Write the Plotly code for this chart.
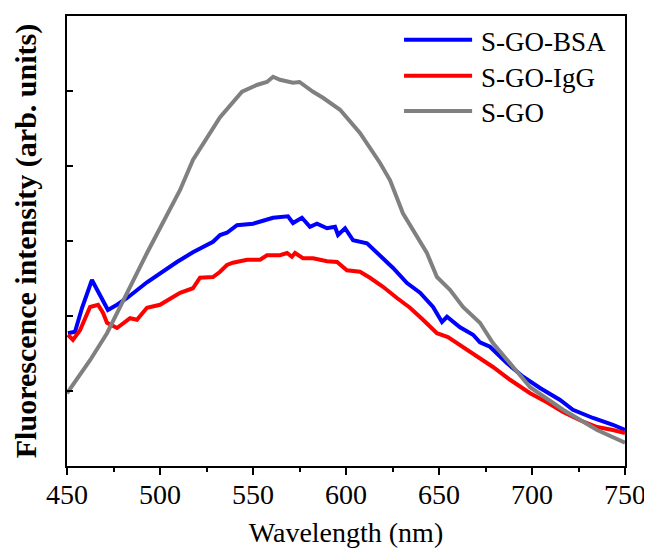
import plotly.graph_objects as go

# wavelength (nm) / intensity (arb. units)
bsa_nm = [450.5, 454.3, 458.1, 463.4, 467.7, 472.0, 476.9, 482.3, 493.0, 500.0, 509.1, 517.7,
          528.5, 532.3, 536.0, 541.4, 550.0, 555.4, 560.8, 568.8, 571.5, 576.3, 580.6, 584.4,
          589.8, 594.1, 595.7, 599.5, 603.8, 611.3, 616.7, 622.0, 625.3, 632.8, 639.8, 646.8,
          651.6, 654.3, 661.3, 668.3, 672.0, 677.4, 686.6, 695.2, 704.3, 715.1, 722.0, 732.8,
          743.5, 750.0]
bsa_int = [1.77, 1.79, 2.11, 2.48, 2.28, 2.08, 2.15, 2.24, 2.45, 2.57, 2.72, 2.85,
           2.99, 3.08, 3.11, 3.21, 3.23, 3.27, 3.31, 3.33, 3.24, 3.31, 3.19, 3.23,
           3.17, 3.19, 3.08, 3.17, 3.01, 2.97, 2.84, 2.71, 2.64, 2.44, 2.31, 2.12,
           1.92, 1.99, 1.85, 1.75, 1.65, 1.59, 1.37, 1.19, 1.04, 0.88, 0.75, 0.64,
           0.55, 0.48]

igg_nm = [450.5, 453.2, 457.0, 462.4, 466.7, 469.4, 471.5, 476.9, 483.9, 487.6, 493.0, 500.0,
          510.8, 517.7, 521.5, 528.5, 532.3, 536.0, 539.2, 546.8, 553.8, 557.5, 564.5, 568.3,
          570.9, 572.6, 576.9, 582.3, 589.8, 595.2, 600.5, 607.5, 612.9, 619.9, 627.4, 634.4,
          641.4, 648.9, 654.8, 662.9, 672.0, 679.0, 688.2, 699.0, 708.0, 716.7, 725.8, 735.0,
          743.5, 750.0]
igg_int = [1.75, 1.68, 1.81, 2.12, 2.15, 2.04, 1.91, 1.84, 1.97, 1.95, 2.11, 2.15,
           2.31, 2.37, 2.51, 2.52, 2.59, 2.68, 2.71, 2.75, 2.75, 2.81, 2.81, 2.84,
           2.79, 2.84, 2.77, 2.77, 2.73, 2.72, 2.61, 2.59, 2.51, 2.39, 2.24, 2.11,
           1.95, 1.77, 1.72, 1.59, 1.44, 1.32, 1.15, 0.97, 0.85, 0.72, 0.61, 0.52,
           0.48, 0.44]

sgo_nm = [450.0, 462.4, 471.5, 482.3, 493.0, 510.8, 517.7, 532.3, 544.1, 552.0, 557.5, 560.8,
          564.5, 571.5, 575.0, 582.3, 587.6, 596.8, 607.5, 618.3, 623.7, 630.6, 638.2, 643.5,
          648.9, 655.9, 662.9, 672.0, 679.0, 688.2, 699.0, 716.7, 735.0, 750.0]
sgo_int = [0.97, 1.41, 1.77, 2.31, 2.84, 3.68, 4.08, 4.65, 4.99, 5.08, 5.12, 5.19,
           5.15, 5.11, 5.12, 4.99, 4.91, 4.75, 4.44, 4.04, 3.81, 3.37, 3.05, 2.84,
           2.52, 2.35, 2.12, 1.91, 1.64, 1.37, 1.05, 0.75, 0.48, 0.31]

names = ['S-GO-BSA', 'S-GO-IgG', 'S-GO']
colors = ['#0000ff', '#ff0000', '#808080']

serif = "Liberation Serif, Times New Roman, serif"

fig = go.Figure()
for xs, ys, nm, col in zip([bsa_nm, igg_nm, sgo_nm], [bsa_int, igg_int, sgo_int], names, colors):
    fig.add_trace(go.Scatter(x=xs, y=ys, mode='lines', name=nm,
                             line=dict(color=col, width=4), showlegend=False))

# legend drawn by hand so the line samples are long like the original
leg_y = [0.947, 0.867, 0.789]
for nm, col, yy in zip(names, colors, leg_y):
    fig.add_shape(type='line', xref='paper', yref='paper', x0=0.604, x1=0.726, y0=yy, y1=yy,
                  line=dict(color=col, width=4))
    fig.add_annotation(xref='paper', yref='paper', x=0.738, y=yy - 0.004, text=nm,
                       showarrow=False, xanchor='left', yanchor='middle',
                       font=dict(size=27, family=serif, color='black'))

# page body has an 8px margin, so the figure is made 8px smaller each way
fig.update_layout(
    width=644, height=551,
    margin=dict(l=59, r=27, t=8, b=93),
    paper_bgcolor='white', plot_bgcolor='white',
    font=dict(family=serif, color='black', size=26),
    showlegend=False,
)
fig.update_xaxes(
    range=[450, 750], dtick=50, tick0=450,
    ticks='outside', ticklen=7, tickwidth=1.5, tickcolor='black',
    minor=dict(dtick=25, ticks='outside', ticklen=4, tickwidth=1.5, tickcolor='black'),
    showline=True, linewidth=2, linecolor='black', mirror=True,
    showgrid=False, zeroline=False, automargin=False,
    tickfont=dict(size=28), ticklabelstandoff=-5,
    title=dict(text='Wavelength (nm)', font=dict(size=28), standoff=14),
)
fig.update_yaxes(
    range=[0, 6], tickvals=[1, 2, 3, 4, 5], showticklabels=False,
    ticks='inside', ticklen=6, tickwidth=1.5, tickcolor='black',
    showline=True, linewidth=2, linecolor='black', mirror=True,
    showgrid=False, zeroline=False, automargin=False,
    title=dict(text='<b>Fluorescence intensity (arb. units)</b>', font=dict(size=30), standoff=20),
)

fig.write_html("out.html")
